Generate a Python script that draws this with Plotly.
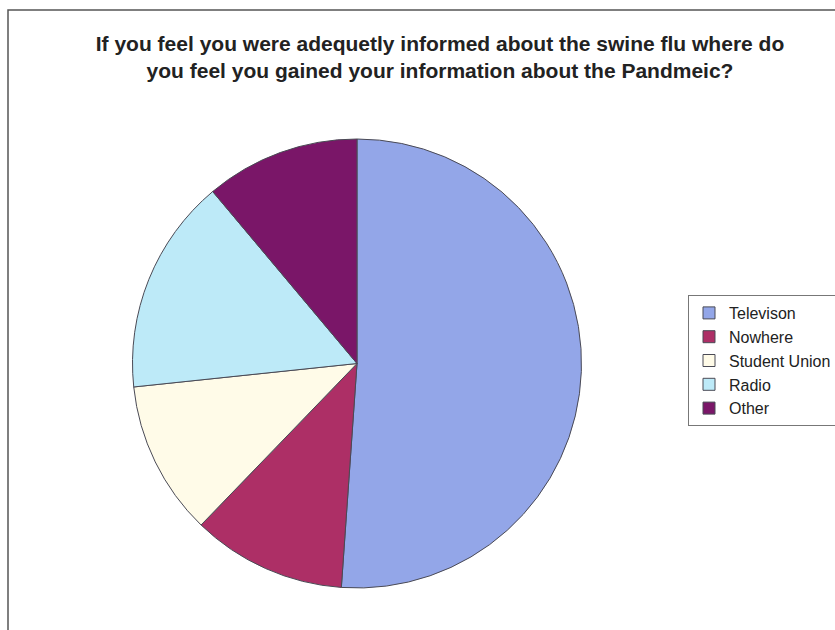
import plotly.graph_objects as go

categories = ["Televison", "Nowhere", "Student Union", "Radio", "Other"]
values = [23, 5, 5, 7, 5]
colors = ["#93a6e8", "#ad2f66", "#fffbe8", "#bdeaf8", "#7a1668"]

fig = go.Figure(go.Pie(
    labels=categories,
    values=values,
    sort=False,
    direction="clockwise",
    rotation=0,
    textinfo="none",
    hoverinfo="label+value+percent",
    marker=dict(colors=colors, line=dict(color="#4a4a55", width=1)),
    domain=dict(x=[132/835, 582/835], y=[1-588/630, 1-139/630]),
))

fig.update_layout(
    width=835, height=630,
    margin=dict(l=0, r=0, t=0, b=0, autoexpand=False),
    paper_bgcolor="white",
    plot_bgcolor="white",
    font=dict(family="Liberation Sans, Arial, sans-serif", color="#222222"),
    title=dict(
        text="<b>If you feel you were adequetly informed about the swine flu where do<br>you feel you gained your information about the Pandmeic?</b>",
        x=440/835, xanchor="center", y=1-51/630, yanchor="top",
        font=dict(size=21, color="#222222"),
    ),
    legend=dict(
        x=688/835, xanchor="left", y=1-295/630, yanchor="top",
        bordercolor="#777777", borderwidth=1, bgcolor="white",
        font=dict(size=16, color="#222222"),
        itemwidth=30,
    ),
    shapes=[dict(type="rect", xref="paper", yref="paper",
                 x0=8/835, x1=1.01, y0=-0.01, y1=1-10/630,
                 line=dict(color="#555555", width=1.5))],
)

fig.write_html("out.html")
